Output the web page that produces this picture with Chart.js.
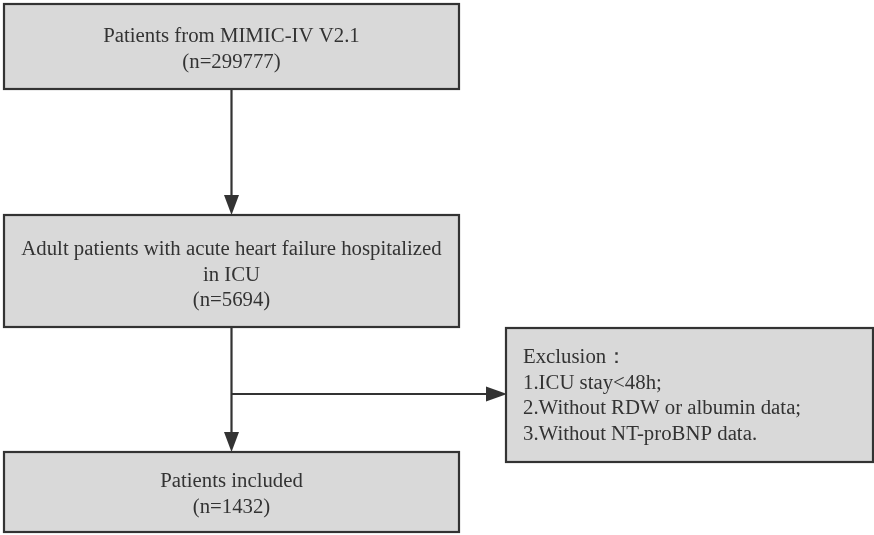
<!DOCTYPE html>
<html>
<head>
<meta charset="utf-8">
<script src="https://cdn.jsdelivr.net/npm/chart.js@4"></script>
<style>
html,body{margin:0;padding:0;background:#fff;}
#wrap{width:874px;height:535px;}
</style>
</head>
<body>
<div id="wrap"><canvas id="c" width="874" height="535"></canvas></div>
<script>
// ---- content (data) ----
const stepTitles = [
  ["Patients from MIMIC-IV V2.1"],
  ["Adult patients with acute heart failure hospitalized", "in ICU"],
  ["Patients included"]
];
const stepCounts = [299777, 5694, 1432];
const exclusionLines = [
  "Exclusion\uFF1A",
  "1.ICU stay<48h;",
  "2.Without RDW or albumin data;",
  "3.Without NT-proBNP data."
];

// ---- layout (diagram coordinate space, separate from data) ----
const mainBoxes = [
  {x0: 4, x1: 459, y0: 4,   y1: 89},
  {x0: 4, x1: 459, y0: 215, y1: 327},
  {x0: 4, x1: 459, y0: 452, y1: 532}
];
const exclBox = {x0: 506, x1: 873, y0: 328, y1: 462};
const trunkX = 231.5;
const branchY = 394;
const firstBaseline = [42, 255, 487];
const lineGap = 25.7;

const FILL = '#d9d9d9';
const STROKE = '#333333';
const TEXT = '#333333';
const FONT = '20.8px "Liberation Serif", "Times New Roman", serif';

const flowPlugin = {
  id: 'flow',
  afterDatasetsDraw(chart) {
    const ctx = chart.ctx;
    const X = v => chart.scales.x.getPixelForValue(v);
    const Y = v => chart.scales.y.getPixelForValue(v);

    function box(b) {
      const x0 = X(b.x0), x1 = X(b.x1), y0 = Y(b.y0), y1 = Y(b.y1);
      ctx.fillStyle = FILL;
      ctx.fillRect(x0, y0, x1 - x0, y1 - y0);
      ctx.lineWidth = 2.2;
      ctx.strokeStyle = STROKE;
      ctx.strokeRect(x0, y0, x1 - x0, y1 - y0);
    }
    function line(ax, ay, bx, by) {
      ctx.beginPath();
      ctx.moveTo(X(ax), Y(ay));
      ctx.lineTo(X(bx), Y(by));
      ctx.lineWidth = 2.2;
      ctx.strokeStyle = STROKE;
      ctx.stroke();
    }
    function headDown(x, y) {
      ctx.beginPath();
      ctx.moveTo(X(x), Y(y));
      ctx.lineTo(X(x - 7.5), Y(y - 20));
      ctx.lineTo(X(x + 7.5), Y(y - 20));
      ctx.closePath();
      ctx.fillStyle = STROKE;
      ctx.fill();
    }
    function headRight(x, y) {
      ctx.beginPath();
      ctx.moveTo(X(x), Y(y));
      ctx.lineTo(X(x - 21), Y(y - 7.5));
      ctx.lineTo(X(x - 21), Y(y + 7.5));
      ctx.closePath();
      ctx.fillStyle = STROKE;
      ctx.fill();
    }

    ctx.save();
    // connectors
    line(trunkX, mainBoxes[0].y1, trunkX, mainBoxes[1].y0 - 18);
    headDown(trunkX, mainBoxes[1].y0);
    line(trunkX, mainBoxes[1].y1, trunkX, mainBoxes[2].y0 - 18);
    headDown(trunkX, mainBoxes[2].y0);
    line(trunkX, branchY, exclBox.x0 - 19, branchY);
    headRight(exclBox.x0 + 1, branchY);

    // boxes
    mainBoxes.forEach(box);
    box(exclBox);

    // texts
    ctx.fillStyle = TEXT;
    ctx.font = FONT;
    ctx.textBaseline = 'alphabetic';
    ctx.textAlign = 'center';
    mainBoxes.forEach((b, i) => {
      const lines = stepTitles[i].concat(['(n=' + stepCounts[i] + ')']);
      const cx = (b.x0 + b.x1) / 2;
      lines.forEach((t, k) => {
        ctx.fillText(t, X(cx), Y(firstBaseline[i] + k * lineGap));
      });
    });
    ctx.textAlign = 'left';
    exclusionLines.forEach((t, k) => {
      ctx.fillText(t, X(exclBox.x0 + 17), Y(363 + k * lineGap));
    });
    ctx.restore();
  }
};

new Chart(document.getElementById('c'), {
  type: 'scatter',
  data: {
    datasets: [{
      data: mainBoxes.map((b, i) => ({x: (b.x0 + b.x1) / 2, y: (b.y0 + b.y1) / 2, n: stepCounts[i]})),
      pointRadius: 0,
      showLine: false
    }]
  },
  options: {
    responsive: false,
    devicePixelRatio: 1,
    animation: false,
    layout: {padding: 0},
    plugins: {legend: {display: false}, tooltip: {enabled: false}},
    scales: {
      x: {type: 'linear', min: 0, max: 874, display: false},
      y: {type: 'linear', min: 0, max: 535, reverse: true, display: false}
    }
  },
  plugins: [flowPlugin]
});
</script>
</body>
</html>
